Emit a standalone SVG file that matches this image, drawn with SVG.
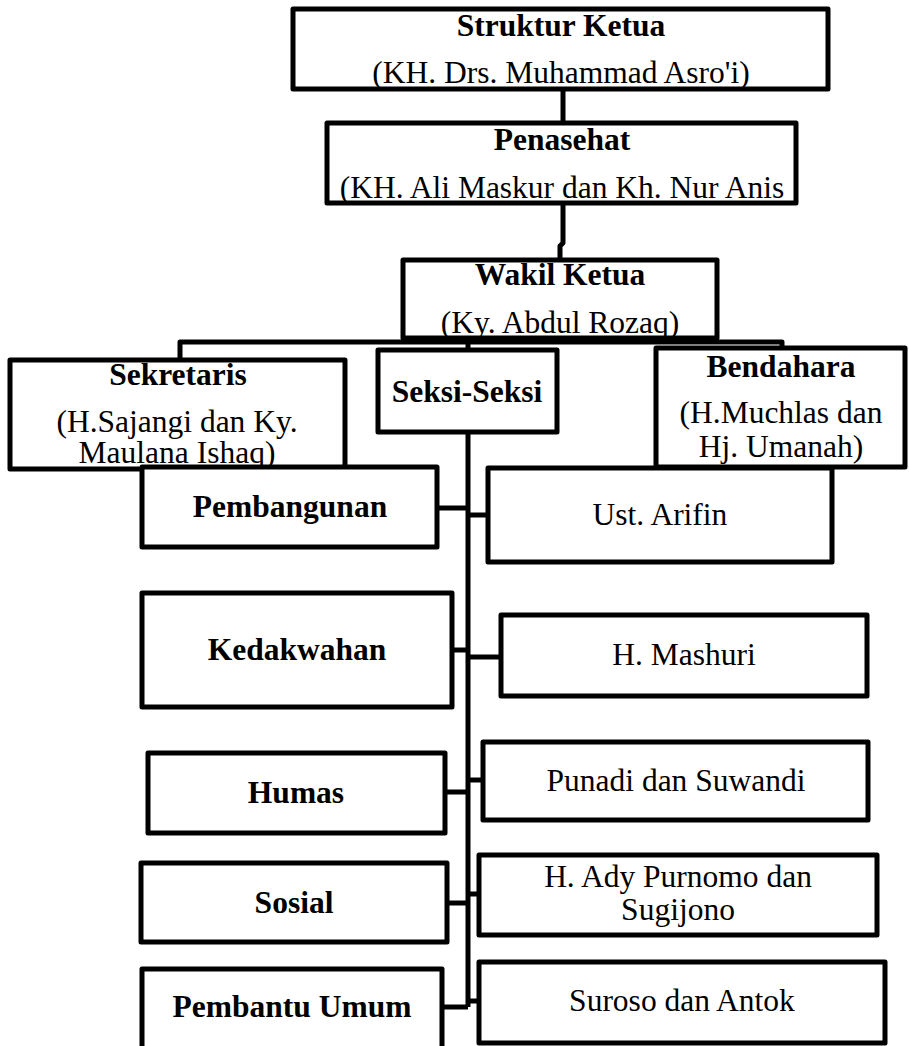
<svg xmlns="http://www.w3.org/2000/svg" width="909" height="1046" viewBox="0 0 909 1046">
<style>
.box{fill:#fff;stroke:#000;stroke-width:5;stroke-linejoin:round}
.ln{fill:none;stroke:#000;stroke-width:5;stroke-linejoin:round}
.b{font-family:"Liberation Serif","Times New Roman",serif;font-size:31.5px;font-weight:bold;text-anchor:middle;fill:#000}
.r{font-family:"Liberation Serif","Times New Roman",serif;font-size:31.5px;text-anchor:middle;fill:#000}
</style>
<rect width="909" height="1046" fill="#fff"/>
<g id="connectors">
<path class="ln" d="M563 89 V123"/>
<path class="ln" d="M563 203 V243 L560 246 V260"/>
<path class="ln" d="M180 360 V342 H782 V348"/>
<path class="ln" d="M468 338 V350"/>
<path class="ln" d="M468 432 V1007"/>
<path class="ln" d="M437 508 H468"/>
<path class="ln" d="M452 650 H468"/>
<path class="ln" d="M445 792 H468"/>
<path class="ln" d="M447 903 H468"/>
<path class="ln" d="M442 1007 H468"/>
<path class="ln" d="M468 515 H488"/>
<path class="ln" d="M468 657 H501"/>
<path class="ln" d="M468 780 H483"/>
<path class="ln" d="M468 894 H479"/>
<path class="ln" d="M468 1001 H479"/>
</g>
<g id="ketua">
<rect class="box" x="293" y="9" width="535" height="80"/>
<text class="b" x="561" y="36">Struktur Ketua</text>
<text class="r" x="561" y="83">(KH. Drs. Muhammad Asro'i)</text>
</g>
<g id="penasehat">
<rect class="box" x="327" y="123" width="469" height="80"/>
<text class="b" x="562" y="150">Penasehat</text>
<text class="r" x="562" y="198">(KH. Ali Maskur dan Kh. Nur Anis</text>
</g>
<g id="wakil">
<rect class="box" x="403" y="260" width="314" height="78"/>
<text class="b" x="560" y="285">Wakil Ketua</text>
<text class="r" x="560" y="333">(Ky. Abdul Rozaq)</text>
</g>
<g id="sekretaris">
<rect class="box" x="10" y="360" width="335" height="109"/>
<text class="b" x="178" y="385">Sekretaris</text>
<text class="r" x="177" y="432">(H.Sajangi dan Ky.</text>
<text class="r" x="177" y="463">Maulana Ishaq)</text>
</g>
<g id="seksi">
<rect class="box" x="378" y="350" width="179" height="82"/>
<text class="b" x="467" y="402">Seksi-Seksi</text>
</g>
<g id="bendahara">
<rect class="box" x="656" y="348" width="249" height="119"/>
<text class="b" x="781" y="377">Bendahara</text>
<text class="r" x="781" y="423">(H.Muchlas dan</text>
<text class="r" x="781" y="457">Hj. Umanah)</text>
</g>
<g id="pembangunan">
<rect class="box" x="142" y="467" width="295" height="80"/>
<text class="b" x="290" y="517">Pembangunan</text>
</g>
<g id="arifin">
<rect class="box" x="488" y="468" width="344" height="94"/>
<text class="r" x="660" y="525">Ust. Arifin</text>
</g>
<g id="kedakwahan">
<rect class="box" x="142" y="593" width="310" height="114"/>
<text class="b" x="297" y="660">Kedakwahan</text>
</g>
<g id="mashuri">
<rect class="box" x="501" y="615" width="366" height="81"/>
<text class="r" x="684" y="665">H. Mashuri</text>
</g>
<g id="humas">
<rect class="box" x="148" y="753" width="297" height="80"/>
<text class="b" x="296" y="803">Humas</text>
</g>
<g id="punadi">
<rect class="box" x="483" y="742" width="385" height="78"/>
<text class="r" x="676" y="791">Punadi dan Suwandi</text>
</g>
<g id="sosial">
<rect class="box" x="141" y="863" width="306" height="79"/>
<text class="b" x="294" y="913">Sosial</text>
</g>
<g id="ady">
<rect class="box" x="479" y="855" width="398" height="80"/>
<text class="r" x="678" y="887">H. Ady Purnomo dan</text>
<text class="r" x="678" y="920">Sugijono</text>
</g>
<g id="pembantu">
<rect class="box" x="142" y="969" width="300" height="95"/>
<text class="b" x="292" y="1017">Pembantu Umum</text>
</g>
<g id="suroso">
<rect class="box" x="479" y="962" width="406" height="81"/>
<text class="r" x="682" y="1011">Suroso dan Antok</text>
</g>
</svg>
